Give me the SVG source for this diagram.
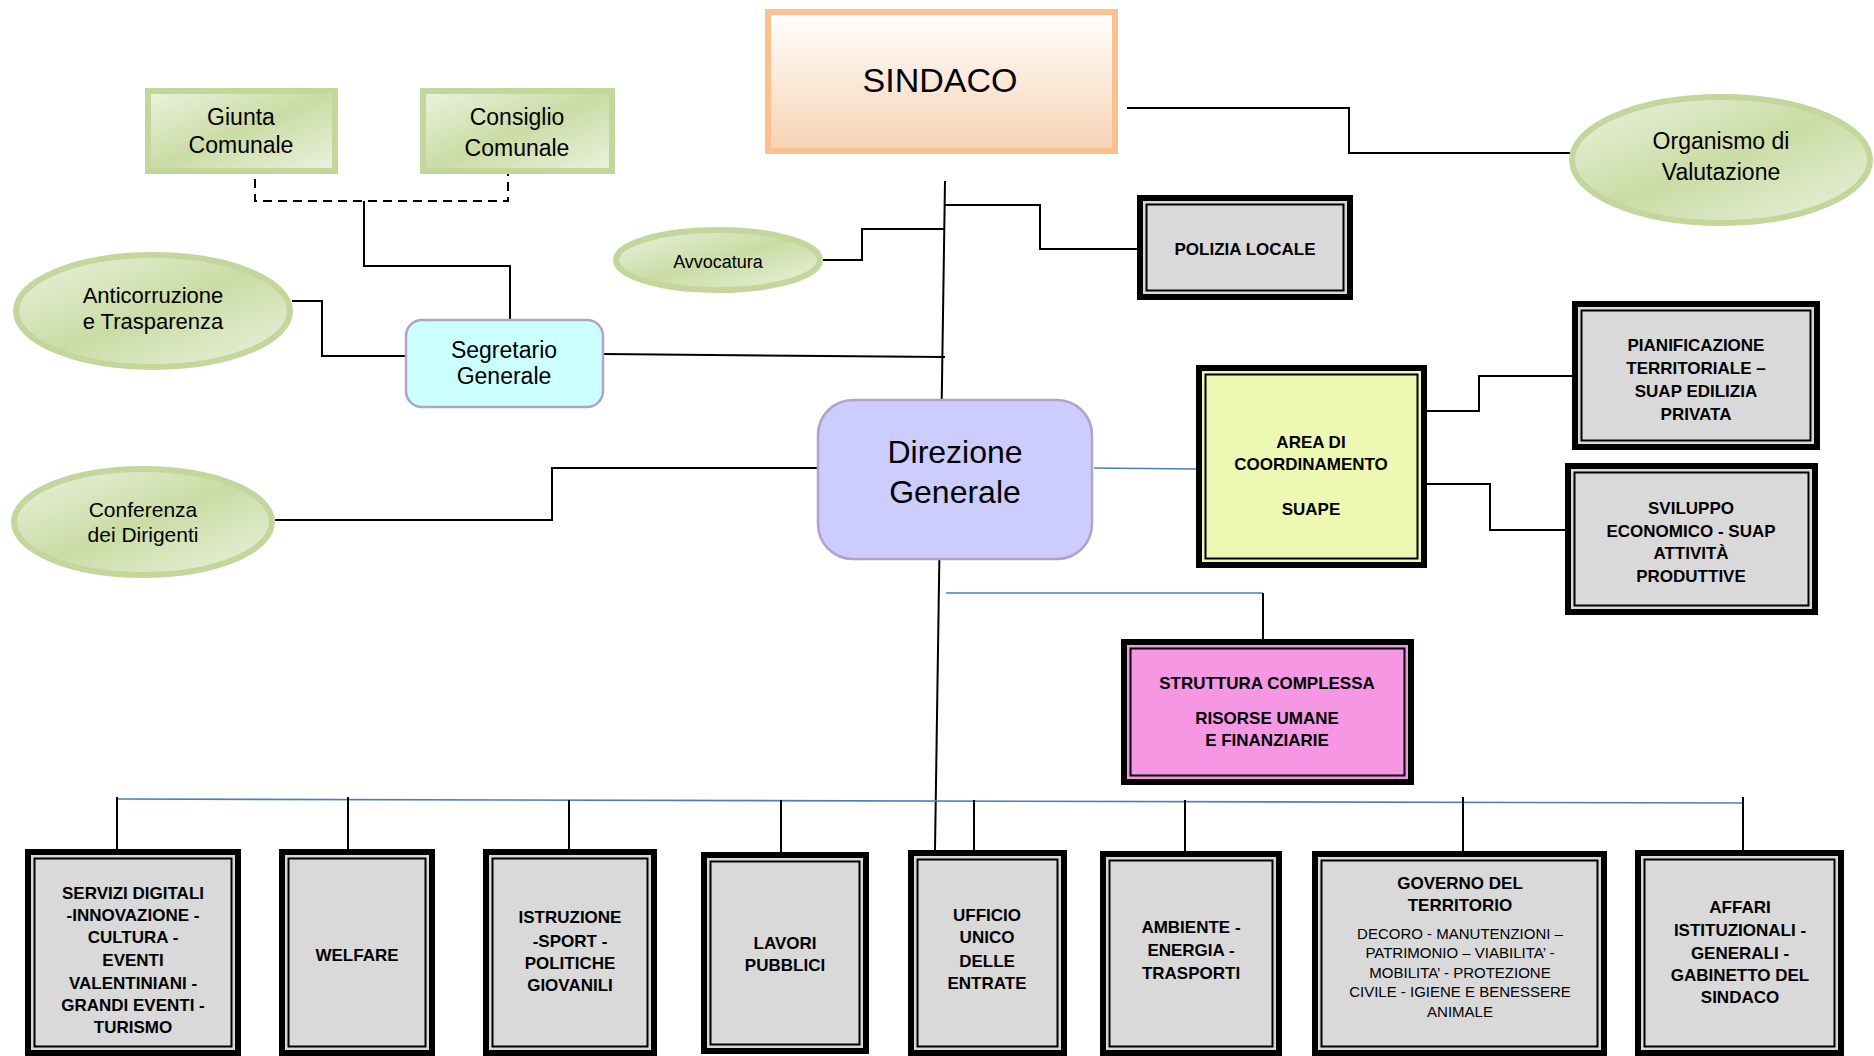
<svg xmlns="http://www.w3.org/2000/svg" width="1874" height="1056" viewBox="0 0 1874 1056">
<style>
.ln{stroke:#000;stroke-width:2;fill:none}
.bl{stroke:#4a7ebb;stroke-width:1.6;fill:none}
.dash{stroke:#000;stroke-width:2;fill:none;stroke-dasharray:9 6}
.grn{stroke:#c3d69b;stroke-width:6;fill:url(#gGreen)}
.outer{stroke:#000;stroke-width:6}
.inner{fill:none;stroke:#000;stroke-width:2}
.gray{fill:#d9d9d9}
text{font-family:"Liberation Sans",Arial,sans-serif;fill:#000;text-anchor:middle}
.b{font-weight:bold;font-size:17px}
.s{font-size:15px}
</style>
<defs>
<linearGradient id="gGreen" x1="0" y1="0" x2="1" y2="1">
<stop offset="0" stop-color="#ecf2df"/>
<stop offset="0.5" stop-color="#cadca5"/>
<stop offset="1" stop-color="#ecf2df"/>
</linearGradient>
<linearGradient id="gOrange" x1="0" y1="0" x2="0" y2="1">
<stop offset="0" stop-color="#ffffff"/>
<stop offset="1" stop-color="#f8d2b3"/>
</linearGradient>
</defs>
<rect width="1874" height="1056" fill="#fff"/>
<g id="connectors">
<polyline class="dash" points="255,164 255,201 508,201 508,169"/>
<polyline class="ln" points="364,201 364,266 510,266 510,319"/>
<polyline class="ln" points="292,301 322,301 322,356 406,356"/>
<line class="ln" x1="604" y1="354" x2="945" y2="357"/>
<line class="ln" x1="945" y1="181" x2="935" y2="850"/>
<polyline class="ln" points="823,260 862,260 862,229 945,229"/>
<polyline class="ln" points="945,205 1040,205 1040,249 1138,249"/>
<polyline class="ln" points="1127,108 1349,108 1349,153 1570,153"/>
<polyline class="ln" points="275,520 552,520 552,468 818,468"/>
<line class="bl" x1="1094" y1="468" x2="1198" y2="469"/>
<polyline class="ln" points="1425,411 1479,411 1479,376 1573,376"/>
<polyline class="ln" points="1425,484 1490,484 1490,530 1566,530"/>
<line class="bl" x1="946" y1="593" x2="1263" y2="593"/>
<line class="ln" x1="1263" y1="593" x2="1263" y2="653"/>
<line class="bl" x1="117" y1="799" x2="1743" y2="803"/>
<line class="ln" x1="117" y1="797" x2="117" y2="857"/>
<line class="ln" x1="348" y1="797" x2="348" y2="857"/>
<line class="ln" x1="569" y1="800" x2="569" y2="858"/>
<line class="ln" x1="781" y1="800" x2="781" y2="860"/>
<line class="ln" x1="974" y1="800" x2="974" y2="860"/>
<line class="ln" x1="1185" y1="800" x2="1185" y2="859"/>
<line class="ln" x1="1463" y1="797" x2="1463" y2="852"/>
<line class="ln" x1="1743" y1="797" x2="1743" y2="857"/>
</g>
<g id="sindaco">
<rect x="768" y="12" width="347" height="139" fill="url(#gOrange)" stroke="#fac090" stroke-width="6"/>
<text x="940" y="92" font-size="34">SINDACO</text>
</g>
<g id="giunta">
<rect class="grn" x="148" y="91" width="187" height="80"/>
<text x="241" y="125" font-size="23">Giunta</text>
<text x="241" y="153" font-size="23">Comunale</text>
</g>
<g id="consiglio">
<rect class="grn" x="423" y="91" width="189" height="80"/>
<text x="517" y="125" font-size="23">Consiglio</text>
<text x="517" y="156" font-size="23">Comunale</text>
</g>
<g id="organismo">
<ellipse class="grn" cx="1721" cy="160" rx="149" ry="63"/>
<text x="1721" y="149" font-size="23">Organismo di</text>
<text x="1721" y="180" font-size="23">Valutazione</text>
</g>
<g id="avvocatura">
<ellipse class="grn" cx="718" cy="260" rx="102" ry="30"/>
<text x="718" y="268" font-size="18">Avvocatura</text>
</g>
<g id="anticorruzione">
<ellipse class="grn" cx="153" cy="311" rx="137" ry="56"/>
<text x="153" y="303" font-size="22">Anticorruzione</text>
<text x="153" y="329" font-size="22">e Trasparenza</text>
</g>
<g id="conferenza">
<ellipse class="grn" cx="143" cy="522" rx="129" ry="53"/>
<text x="143" y="517" font-size="21">Conferenza</text>
<text x="143" y="542" font-size="21">dei Dirigenti</text>
</g>
<g id="segretario">
<rect x="406" y="320" width="197" height="87" rx="16" fill="#ccffff" stroke="#b3a2c7" stroke-width="2.5"/>
<text x="504" y="358" font-size="23">Segretario</text>
<text x="504" y="384" font-size="23">Generale</text>
</g>
<g id="direzione">
<rect x="818" y="400" width="274" height="159" rx="35" fill="#ccccff" stroke="#b3a2c7" stroke-width="2.5"/>
<text x="955" y="463" font-size="32">Direzione</text>
<text x="955" y="503" font-size="32">Generale</text>
</g>
<g id="polizia">
<rect class="outer gray" x="1140" y="198" width="210" height="99"/>
<rect class="inner" x="1146.5" y="204.5" width="197" height="86"/>
<text class="b" x="1245" y="255">POLIZIA LOCALE</text>
</g>
<g id="area">
<rect class="outer" fill="#edf9b3" x="1199" y="368" width="225" height="197"/>
<rect class="inner" x="1205.5" y="374.5" width="212" height="184"/>
<text class="b" x="1311" y="448">AREA DI</text>
<text class="b" x="1311" y="470">COORDINAMENTO</text>
<text class="b" x="1311" y="515">SUAPE</text>
</g>
<g id="pianificazione">
<rect class="outer gray" x="1575" y="304" width="242" height="143"/>
<rect class="inner" x="1581.5" y="310.5" width="229" height="130"/>
<text class="b" x="1696" y="351">PIANIFICAZIONE</text>
<text class="b" x="1696" y="374">TERRITORIALE –</text>
<text class="b" x="1696" y="397">SUAP EDILIZIA</text>
<text class="b" x="1696" y="420">PRIVATA</text>
</g>
<g id="sviluppo">
<rect class="outer gray" x="1568" y="466" width="247" height="146"/>
<rect class="inner" x="1574.5" y="472.5" width="234" height="133"/>
<text class="b" x="1691" y="514">SVILUPPO</text>
<text class="b" x="1691" y="537">ECONOMICO - SUAP</text>
<text class="b" x="1691" y="559">ATTIVITÀ</text>
<text class="b" x="1691" y="582">PRODUTTIVE</text>
</g>
<g id="struttura">
<rect class="outer" fill="#f597e3" x="1124" y="642" width="287" height="140"/>
<rect class="inner" x="1130.5" y="648.5" width="274" height="127"/>
<text class="b" x="1267" y="689">STRUTTURA COMPLESSA</text>
<text class="b" x="1267" y="724">RISORSE UMANE</text>
<text class="b" x="1267" y="746">E FINANZIARIE</text>
</g>
<g id="servizi">
<rect class="outer gray" x="28" y="852" width="210" height="201"/>
<rect class="inner" x="34.5" y="858.5" width="197" height="188"/>
<text class="b" x="133" y="899">SERVIZI DIGITALI</text>
<text class="b" x="133" y="921">-INNOVAZIONE -</text>
<text class="b" x="133" y="943">CULTURA -</text>
<text class="b" x="133" y="966">EVENTI</text>
<text class="b" x="133" y="989">VALENTINIANI -</text>
<text class="b" x="133" y="1011">GRANDI EVENTI -</text>
<text class="b" x="133" y="1033">TURISMO</text>
</g>
<g id="welfare">
<rect class="outer gray" x="282" y="852" width="150" height="201"/>
<rect class="inner" x="288.5" y="858.5" width="137" height="188"/>
<text class="b" x="357" y="961">WELFARE</text>
</g>
<g id="istruzione">
<rect class="outer gray" x="486" y="852" width="168" height="201"/>
<rect class="inner" x="492.5" y="858.5" width="155" height="188"/>
<text class="b" x="570" y="923">ISTRUZIONE</text>
<text class="b" x="570" y="947">-SPORT -</text>
<text class="b" x="570" y="969">POLITICHE</text>
<text class="b" x="570" y="991">GIOVANILI</text>
</g>
<g id="lavori">
<rect class="outer gray" x="704" y="855" width="162" height="196"/>
<rect class="inner" x="710.5" y="861.5" width="149" height="183"/>
<text class="b" x="785" y="949">LAVORI</text>
<text class="b" x="785" y="971">PUBBLICI</text>
</g>
<g id="ufficio">
<rect class="outer gray" x="911" y="853" width="153" height="200"/>
<rect class="inner" x="917.5" y="859.5" width="140" height="187"/>
<text class="b" x="987" y="921">UFFICIO</text>
<text class="b" x="987" y="943">UNICO</text>
<text class="b" x="987" y="967">DELLE</text>
<text class="b" x="987" y="989">ENTRATE</text>
</g>
<g id="ambiente">
<rect class="outer gray" x="1103" y="854" width="176" height="199"/>
<rect class="inner" x="1109.5" y="860.5" width="163" height="186"/>
<text class="b" x="1191" y="933">AMBIENTE -</text>
<text class="b" x="1191" y="956">ENERGIA -</text>
<text class="b" x="1191" y="979">TRASPORTI</text>
</g>
<g id="governo">
<rect class="outer gray" x="1315" y="854" width="289" height="199"/>
<rect class="inner" x="1321.5" y="860.5" width="276" height="186"/>
<text class="b" x="1460" y="889">GOVERNO DEL</text>
<text class="b" x="1460" y="911">TERRITORIO</text>
<text class="s" x="1460" y="939">DECORO - MANUTENZIONI –</text>
<text class="s" x="1460" y="958">PATRIMONIO – VIABILITA’ -</text>
<text class="s" x="1460" y="978">MOBILITA’ - PROTEZIONE</text>
<text class="s" x="1460" y="997">CIVILE - IGIENE E BENESSERE</text>
<text class="s" x="1460" y="1017">ANIMALE</text>
</g>
<g id="affari">
<rect class="outer gray" x="1638" y="853" width="203" height="200"/>
<rect class="inner" x="1644.5" y="859.5" width="190" height="187"/>
<text class="b" x="1740" y="913">AFFARI</text>
<text class="b" x="1740" y="936">ISTITUZIONALI -</text>
<text class="b" x="1740" y="959">GENERALI -</text>
<text class="b" x="1740" y="981">GABINETTO DEL</text>
<text class="b" x="1740" y="1003">SINDACO</text>
</g>
</svg>
